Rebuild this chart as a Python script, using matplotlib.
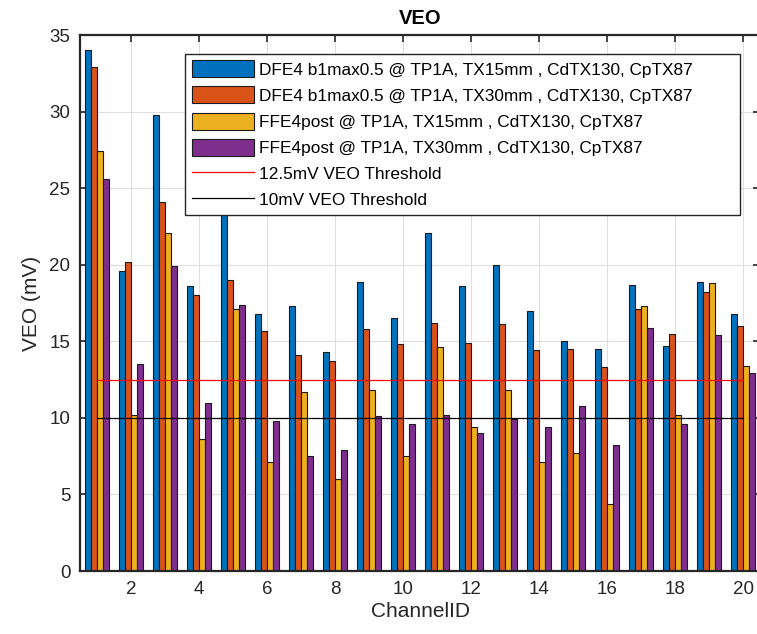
import numpy as np
import matplotlib.pyplot as plt

plt.rcParams["font.family"] = ["Liberation Sans", "DejaVu Sans"]

# Values (mV)
channels = np.arange(1, 21)
dfe4_tx15 = [34.0, 19.6, 29.8, 18.6, 24.0, 16.8, 17.3, 14.3, 18.9, 16.5,
             22.1, 18.6, 20.0, 17.0, 15.0, 14.5, 18.7, 14.7, 18.9, 16.8]
dfe4_tx30 = [32.9, 20.2, 24.1, 18.0, 19.0, 15.7, 14.1, 13.7, 15.8, 14.8,
             16.2, 14.9, 16.1, 14.4, 14.5, 13.3, 17.1, 15.5, 18.2, 16.0]
ffe4_tx15 = [27.4, 10.2, 22.1, 8.6, 17.1, 7.1, 11.7, 6.0, 11.8, 7.5,
             14.6, 9.4, 11.8, 7.1, 7.7, 4.4, 17.3, 10.2, 18.8, 13.4]
ffe4_tx30 = [25.6, 13.5, 19.9, 11.0, 17.4, 9.8, 7.5, 7.9, 10.1, 9.6,
             10.2, 9.0, 9.9, 9.4, 10.8, 8.2, 15.9, 9.6, 15.4, 12.9]
series_labels = [
    "DFE4 b1max0.5 @ TP1A, TX15mm , CdTX130, CpTX87",
    "DFE4 b1max0.5 @ TP1A, TX30mm , CdTX130, CpTX87",
    "FFE4post @ TP1A, TX15mm , CdTX130, CpTX87",
    "FFE4post @ TP1A, TX30mm , CdTX130, CpTX87",
]
colors = ["#0072BD", "#D95319", "#EDB120", "#7E2F8E"]
thresholds = [12.5, 10.0]
threshold_labels = ["12.5mV VEO Threshold", "10mV VEO Threshold"]
threshold_colors = ["#FF0000", "#000000"]

fig = plt.figure(figsize=(7.57, 6.34), dpi=100)
# axes runs slightly past the right edge, like the cropped original
ax = fig.add_axes([80 / 757, 63 / 634, 680 / 757, 536 / 634])

handles = []
bar_w = 0.176
series = [dfe4_tx15, dfe4_tx30, ffe4_tx15, ffe4_tx30]
for i, vals in enumerate(series):
    offset = (i - 1.5) * bar_w
    b = ax.bar(channels + offset, vals, bar_w, color=colors[i], edgecolor="#1a1a1a",
               linewidth=0.8, label=series_labels[i], zorder=2)
    handles.append(b)

for t, lab, c in zip(thresholds, threshold_labels, threshold_colors):
    ln, = ax.plot(channels, [t] * len(channels), color=c, linewidth=0.9, label=lab, zorder=3)
    handles.append(ln)

ax.set_xlim(0.5, 20.5)
ax.set_ylim(0, 35)
ax.set_xticks(np.arange(2, 21, 2))
ax.set_yticks(np.arange(0, 36, 5))
ax.grid(True, color="#dfdfdf", linewidth=0.8, zorder=0)
ax.set_axisbelow(True)

for s in ax.spines.values():
    s.set_color("#262626")
    s.set_linewidth(1.6)
ax.tick_params(direction="in", length=5, width=1.2, top=True, right=True,
               colors="#262626", labelsize=13.5, pad=7)

ax.set_title("VEO", fontsize=14.5, fontweight="bold", color="#000000", pad=8)
ax.set_xlabel("ChannelID", fontsize=15, color="#262626", labelpad=3)
ax.set_ylabel("VEO (mV)", fontsize=15, color="#262626", labelpad=6)

leg = ax.legend(handles=handles, loc="upper left",
                bbox_to_anchor=(0.1549, 0.5, 0.8157, 0.4646),
                mode="expand", fontsize=12.4, handlelength=3.6, handleheight=1.15,
                handletextpad=0.3, labelspacing=0.51, borderpad=0.36,
                borderaxespad=0, fancybox=False, framealpha=1, edgecolor="#262626")
leg.get_frame().set_linewidth(1.0)
leg.set_zorder(5)

fig.savefig("out.png", dpi=100)
